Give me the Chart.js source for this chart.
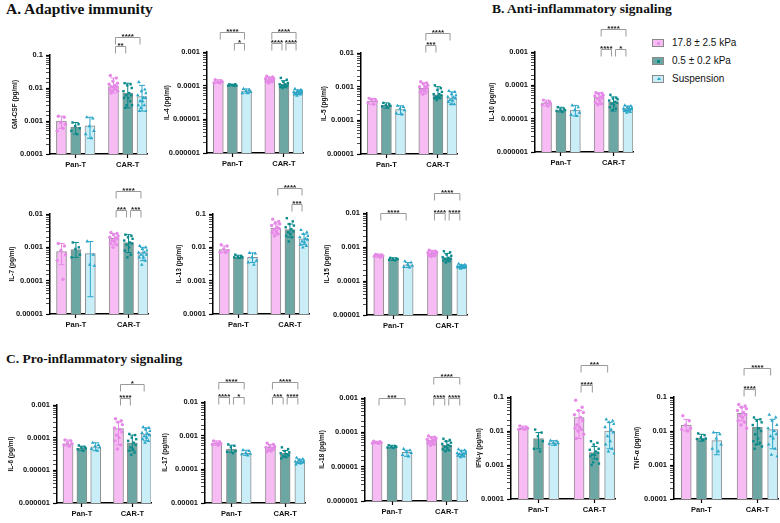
<!DOCTYPE html>
<html>
<head>
<meta charset="utf-8">
<script src="https://cdn.jsdelivr.net/npm/chart.js@4.4.1/dist/chart.umd.min.js"></script>
<style>
  body { margin: 0; background: #fff; }
  #fig { position: relative; width: 780px; height: 523px; overflow: hidden; font-family: "Liberation Sans", Arial, sans-serif; }
  #fig canvas { position: absolute; }
  .ttl { position: absolute; font: bold 13.5px "Liberation Serif", "Times New Roman", serif; color: #111; white-space: nowrap; line-height: 16px; }
  .leg { position: absolute; left: 652px; height: 12px; line-height: 12px; font-size: 10px; color: #111; white-space: nowrap; }
  .leg span.txt { position: absolute; left: 20px; top: 0; }
  .sw { position: absolute; left: 0; top: 2px; width: 10px; height: 6px; border: 1px solid #8a8a8a; }
  .mk { position: absolute; left: 4px; top: 1.5px; width: 3px; height: 3px; }
</style>
</head>
<body>
<div id="fig">
  <div class="ttl" style="left:6px;top:0px;font-size:15.5px;line-height:18px">A. Adaptive immunity</div>
  <div class="ttl" style="left:492px;top:1px">B. Anti-inflammatory signaling</div>
  <div class="ttl" style="left:6px;top:351px">C. Pro-inflammatory signaling</div>
  <div class="leg" style="top:37px"><div class="sw" style="background:#f8bcf5"><div class="mk" style="background:#e58ae6;border-radius:50%"></div></div><span class="txt">17.8 ± 2.5 kPa</span></div>
  <div class="leg" style="top:55px"><div class="sw" style="background:#6ca7a3"><div class="mk" style="background:#0a8a8b"></div></div><span class="txt">0.5 ± 0.2 kPa</span></div>
  <div class="leg" style="top:73px"><div class="sw" style="background:#c9eef8"><div class="mk" style="width:0;height:0;left:3.5px;top:1px;border-left:2px solid transparent;border-right:2px solid transparent;border-bottom:3px solid #2ba6c8"></div></div><span class="txt">Suspension</span></div>
</div>
<script>
const groups = ['Pan-T', 'CAR-T'];
const series = ['17.8 ± 2.5 kPa', '0.5 ± 0.2 kPa', 'Suspension'];

// order of bars: Pan-T (3 series), then CAR-T (3 series)
// GM-CSF
const gmcsfMean = [0.001, 0.00065, 0.00072, 0.011, 0.007, 0.0055];
const gmcsfErr = [[0.0006, 0.0014], [0.0004, 0.0009], [0.0003, 0.0013], [0.007, 0.02], [0.0025, 0.014], [0.002, 0.012]];
const gmcsfPts = [
  [0.0014, 0.0013, 0.0009, 0.0008, 0.0005, 0.0006],
  [0.0009, 0.0008, 0.0007, 0.0006, 0.0005, 0.0004],
  [0.0013, 0.0012, 0.0007, 0.0005, 0.0004, 0.0003],
  [0.024, 0.02, 0.016, 0.014, 0.013, 0.012, 0.011, 0.011, 0.01, 0.009, 0.009, 0.008, 0.008, 0.007],
  [0.014, 0.013, 0.012, 0.01, 0.008, 0.007, 0.006, 0.006, 0.005, 0.005, 0.004, 0.003, 0.003, 0.0025],
  [0.015, 0.009, 0.008, 0.007, 0.006, 0.005, 0.005, 0.004, 0.004, 0.003, 0.003, 0.0025, 0.002, 0.002]
];
const gmcsfSig = [[3, 4, '**', 0], [3, 5, '****', 1]];

// IL-4
const il4Mean = [0.00013, 0.000105, 0.00007, 0.00015, 0.00011, 0.000065];
const il4Err = [[0.00012, 0.00015], [0.0001, 0.00011], [0.00006, 0.00008], [0.00013, 0.00018], [0.00009, 0.00014], [0.000055, 0.000075]];
const il4Pts = [
  [0.00015, 0.00014, 0.00013, 0.00013, 0.00012, 0.00012],
  [0.00011, 0.00011, 0.000105, 0.0001, 0.0001, 0.0001],
  [0.00008, 0.000075, 0.00007, 0.000065, 0.00006, 0.00006],
  [0.00019, 0.00018, 0.00017, 0.00016, 0.00016, 0.00015, 0.00015, 0.00014, 0.00014, 0.00013, 0.00013, 0.00012],
  [0.00017, 0.00015, 0.00013, 0.00012, 0.00011, 0.00011, 0.0001, 0.0001, 0.000095, 0.00009, 0.00009, 0.000085],
  [0.00008, 0.000075, 0.00007, 0.00007, 0.000065, 0.000065, 0.00006, 0.00006, 0.000058, 0.000055, 0.000055, 0.00005]
];
const il4Sig = [[0, 2, '****', 1], [1, 2, '*', 0], [3, 5, '****', 1], [3, 4, '****', 0], [4, 5, '****', 0]];

// IL-5
const il5Mean = [0.00037, 0.00028, 0.00021, 0.0009, 0.00057, 0.00047];
const il5Err = [[0.0003, 0.00045], [0.00023, 0.00033], [0.00015, 0.00027], [0.0006, 0.0013], [0.00045, 0.001], [0.0003, 0.0007]];
const il5Pts = [
  [0.00045, 0.00042, 0.0004, 0.00037, 0.00033, 0.0003],
  [0.00033, 0.0003, 0.00028, 0.00027, 0.00026, 0.00024],
  [0.00027, 0.00025, 0.00022, 0.0002, 0.00016, 0.00015],
  [0.0014, 0.0013, 0.0012, 0.0011, 0.001, 0.001, 0.0009, 0.0008, 0.0008, 0.0007, 0.0007, 0.0006],
  [0.0011, 0.0009, 0.0008, 0.0007, 0.0006, 0.0006, 0.00055, 0.0005, 0.0005, 0.00045, 0.00045, 0.0004],
  [0.00075, 0.0007, 0.0006, 0.00055, 0.0005, 0.00048, 0.00045, 0.0004, 0.00038, 0.00035, 0.0003, 0.0003]
];
const il5Sig = [[3, 4, '***', 0], [3, 5, '****', 1]];

// IL-10
const il10Mean = [0.00003, 0.000018, 0.000018, 0.000045, 0.000032, 0.00002];
const il10Err = [[0.000024, 0.000036], [0.000016, 0.000022], [0.000012, 0.000025], [0.000028, 0.00006], [0.000017, 0.000045], [0.000016, 0.000024]];
const il10Pts = [
  [0.000036, 0.000033, 0.00003, 0.000028, 0.000026, 0.000024],
  [0.000022, 0.00002, 0.000019, 0.000018, 0.000017, 0.000016],
  [0.000025, 0.000022, 0.000018, 0.000015, 0.000013, 0.000012],
  [0.00006, 0.000058, 0.000055, 0.00005, 0.000048, 0.000045, 0.000042, 0.00004, 0.000035, 0.00003, 0.000028, 0.000026],
  [0.000052, 0.000042, 0.00004, 0.000038, 0.000035, 0.000032, 0.00003, 0.000028, 0.000025, 0.000022, 0.00002, 0.000018],
  [0.000025, 0.000024, 0.000022, 0.000021, 0.00002, 0.00002, 0.000019, 0.000018, 0.000018, 0.000017, 0.000016, 0.000015]
];
const il10Sig = [[3, 5, '****', 1], [3, 4, '****', 0], [4, 5, '*', 0]];

// IL-7
const il7Mean = [0.00075, 0.00085, 0.00065, 0.0019, 0.0014, 0.0007];
const il7Err = [[0.0003, 0.0013], [0.0005, 0.0014], [0.000033, 0.0015], [0.0012, 0.0026], [0.0007, 0.0024], [0.0004, 0.001]];
const il7Pts = [
  [0.0013, 0.0011, 0.0008, 0.0006, 0.0004, 0.00011],
  [0.0014, 0.001, 0.0009, 0.0006, 0.0005],
  [0.0015, 0.0006, 0.0003, 0.00028],
  [0.0028, 0.0026, 0.0024, 0.0022, 0.002, 0.0019, 0.0018, 0.0016, 0.0015, 0.0013, 0.0012, 0.001],
  [0.0024, 0.0022, 0.002, 0.0018, 0.0016, 0.0014, 0.0013, 0.0012, 0.001, 0.0008, 0.0006, 0.0005],
  [0.0011, 0.001, 0.0009, 0.0008, 0.0007, 0.0007, 0.0006, 0.0006, 0.0005, 0.0005, 0.0004, 0.0003]
];
const il7Sig = [[3, 5, '****', 1], [3, 4, '***', 0], [4, 5, '***', 0]];

// IL-13
const il13Mean = [0.0085, 0.0052, 0.005, 0.037, 0.034, 0.018];
const il13Err = [[0.007, 0.011], [0.0047, 0.0058], [0.0035, 0.0068], [0.025, 0.05], [0.02, 0.05], [0.012, 0.025]];
const il13Pts = [
  [0.012, 0.011, 0.009, 0.008, 0.007, 0.007],
  [0.006, 0.0055, 0.0052, 0.005, 0.005, 0.0048],
  [0.0068, 0.0065, 0.005, 0.004, 0.0035, 0.003],
  [0.07, 0.06, 0.055, 0.05, 0.045, 0.04, 0.037, 0.035, 0.03, 0.028, 0.025, 0.022],
  [0.075, 0.06, 0.05, 0.045, 0.04, 0.035, 0.03, 0.028, 0.025, 0.022, 0.02, 0.015],
  [0.033, 0.028, 0.025, 0.022, 0.02, 0.018, 0.017, 0.015, 0.014, 0.012, 0.011, 0.01]
];
const il13Sig = [[3, 5, '****', 1], [4, 5, '***', 0]];

// IL-15
const il15Mean = [0.00056, 0.00044, 0.0003, 0.00065, 0.00048, 0.00027];
const il15Err = [[0.0005, 0.00062], [0.0004, 0.00048], [0.00025, 0.00035], [0.00055, 0.0008], [0.00038, 0.00065], [0.00024, 0.0003]];
const il15Pts = [
  [0.0006, 0.00058, 0.00057, 0.00055, 0.00053, 0.0005],
  [0.00048, 0.00046, 0.00045, 0.00044, 0.00042, 0.0004],
  [0.00038, 0.00035, 0.0003, 0.00028, 0.00026, 0.00025],
  [0.0008, 0.00075, 0.00072, 0.0007, 0.00068, 0.00065, 0.00062, 0.0006, 0.00058, 0.00056, 0.00055, 0.00052],
  [0.00075, 0.0007, 0.0006, 0.00055, 0.0005, 0.00048, 0.00045, 0.00045, 0.00042, 0.0004, 0.00038, 0.00035],
  [0.00032, 0.0003, 0.00029, 0.00028, 0.00027, 0.00027, 0.00026, 0.00026, 0.00025, 0.00025, 0.00024, 0.00023]
];
const il15Sig = [[0, 2, '****', 0], [3, 5, '****', 1], [3, 4, '****', 0], [4, 5, '****', 0]];

// IL-6
const il6Mean = [0.000065, 0.000048, 0.000052, 0.00019, 0.00007, 0.00013];
const il6Err = [[0.000055, 0.000085], [0.00004, 0.000055], [0.00004, 0.00007], [0.00006, 0.0003], [0.00004, 0.00012], [0.00008, 0.0002]];
const il6Pts = [
  [0.000085, 0.00008, 0.00007, 0.000065, 0.00006, 0.000055],
  [0.000058, 0.000052, 0.00005, 0.000047, 0.000044, 0.00004],
  [0.00007, 0.00006, 0.000055, 0.00005, 0.000045, 0.00004],
  [0.00038, 0.00033, 0.0003, 0.00025, 0.0002, 0.00018, 0.00015, 0.00012, 0.0001, 0.00008, 0.00006, 0.000045],
  [0.00013, 0.00012, 0.0001, 0.00009, 0.00008, 0.00007, 0.00006, 0.00005, 0.000045, 0.00004, 0.000035, 0.00003],
  [0.00021, 0.0002, 0.00018, 0.00016, 0.00014, 0.00013, 0.00012, 0.00011, 0.0001, 0.00009, 0.00008, 0.00007]
];
const il6Sig = [[3, 4, '****', 0], [3, 5, '*', 1]];

// IL-17
const il17Mean = [0.0006, 0.0004, 0.0003, 0.00046, 0.0003, 0.00017];
const il17Err = [[0.00052, 0.0007], [0.00032, 0.00052], [0.00026, 0.00037], [0.00035, 0.00055], [0.00023, 0.00036], [0.00015, 0.0002]];
const il17Pts = [
  [0.0007, 0.00065, 0.0006, 0.00058, 0.00055, 0.00052],
  [0.00055, 0.0005, 0.00045, 0.00035, 0.00033, 0.0003],
  [0.00037, 0.00035, 0.0003, 0.00029, 0.00028, 0.00026],
  [0.0006, 0.00055, 0.0005, 0.00048, 0.00045, 0.00042, 0.0004, 0.00038, 0.00035, 0.00033],
  [0.00045, 0.0004, 0.00035, 0.00032, 0.0003, 0.00028, 0.00026, 0.00025, 0.00023, 0.00021],
  [0.00022, 0.0002, 0.00019, 0.00018, 0.00017, 0.00017, 0.00016, 0.00016, 0.00015, 0.00014]
];
const il17Sig = [[0, 2, '****', 1], [0, 1, '****', 0], [1, 2, '*', 0], [3, 5, '****', 1], [3, 4, '***', 0], [4, 5, '****', 0]];

// IL-18
const il18Mean = [0.00005, 0.000038, 0.000026, 0.000058, 0.000042, 0.000024];
const il18Err = [[0.000047, 0.000055], [0.000035, 0.000042], [0.00002, 0.00003], [0.000045, 0.000075], [0.00003, 0.000055], [0.00002, 0.00003]];
const il18Pts = [
  [0.000055, 0.000053, 0.00005, 0.00005, 0.000048, 0.000047],
  [0.000042, 0.00004, 0.000038, 0.000038, 0.000036, 0.000035],
  [0.000033, 0.00003, 0.000027, 0.000025, 0.000022, 0.00002],
  [0.000078, 0.000072, 0.00007, 0.000066, 0.000062, 0.00006, 0.000057, 0.000055, 0.00005, 0.000048, 0.000045, 0.000042],
  [0.000065, 0.00006, 0.000055, 0.00005, 0.000046, 0.000043, 0.00004, 0.000038, 0.000035, 0.000032, 0.00003, 0.000028],
  [0.000032, 0.00003, 0.000028, 0.000027, 0.000025, 0.000024, 0.000024, 0.000023, 0.000022, 0.000021, 0.00002, 0.000019]
];
const il18Sig = [[0, 2, '***', 0], [3, 5, '****', 1], [3, 4, '****', 0], [4, 5, '****', 0]];

// IFN-γ
const ifngMean = [0.012, 0.006, 0.0045, 0.025, 0.0023, 0.01];
const ifngErr = [[0.011, 0.014], [0.003, 0.009], [0.0038, 0.0052], [0.006, 0.04], [0.0015, 0.0035], [0.003, 0.018]];
const ifngPts = [
  [0.014, 0.013, 0.012, 0.012, 0.011, 0.011],
  [0.011, 0.009, 0.007, 0.005, 0.003, 0.0025],
  [0.0052, 0.005, 0.0045, 0.0044, 0.0042, 0.004],
  [0.08, 0.05, 0.04, 0.035, 0.03, 0.025, 0.02, 0.015, 0.013, 0.012, 0.011, 0.01, 0.008, 0.006],
  [0.005, 0.0045, 0.004, 0.003, 0.0028, 0.0025, 0.0023, 0.002, 0.002, 0.0018, 0.0015, 0.0012, 0.0011, 0.001],
  [0.022, 0.02, 0.018, 0.016, 0.013, 0.011, 0.009, 0.007, 0.005, 0.004, 0.003, 0.0025, 0.0022]
];
const ifngSig = [[3, 4, '****', 0], [3, 5, '***', 1]];

// TNF-α
const tnfaMean = [0.015, 0.0062, 0.0052, 0.033, 0.013, 0.011];
const tnfaErr = [[0.01, 0.022], [0.005, 0.008], [0.002, 0.009], [0.02, 0.05], [0.004, 0.022], [0.003, 0.022]];
const tnfaPts = [
  [0.028, 0.02, 0.015, 0.012, 0.011, 0.01],
  [0.0085, 0.0075, 0.0065, 0.006, 0.0058, 0.0055],
  [0.009, 0.008, 0.006, 0.004, 0.003, 0.0025],
  [0.06, 0.055, 0.05, 0.045, 0.04, 0.035, 0.03, 0.028, 0.025, 0.02, 0.018, 0.015, 0.012],
  [0.025, 0.022, 0.02, 0.018, 0.015, 0.012, 0.01, 0.008, 0.006, 0.005, 0.0045, 0.004, 0.0035, 0.003],
  [0.03, 0.025, 0.02, 0.015, 0.012, 0.01, 0.008, 0.007, 0.006, 0.004, 0.003, 0.002, 0.0018]
];
const tnfaSig = [[3, 4, '****', 0], [3, 5, '****', 1]];

// panel placement (axis origin x, plot width, top/bottom tick y, title gap, bracket rows)
const panels = [
  { label: 'GM-CSF (pg/ml)', min: 1e-4, max: 1e-1, mean: gmcsfMean, err: gmcsfErr, pts: gmcsfPts, sig: gmcsfSig, ax: 50, w: 97, top: 55, bottom: 154, gap: 35, rows: [9, 18] },
  { label: 'IL-4 (pg/ml)', min: 1e-6, max: 1e-3, mean: il4Mean, err: il4Err, pts: il4Pts, sig: il4Sig, ax: 207, w: 96, top: 52, bottom: 153, gap: 40, rows: [9, 20] },
  { label: 'IL-5 (pg/ml)', min: 1e-5, max: 1e-2, mean: il5Mean, err: il5Err, pts: il5Pts, sig: il5Sig, ax: 361, w: 96, top: 53, bottom: 154, gap: 37, rows: [8, 20] },
  { label: 'IL-10 (pg/ml)', min: 1e-6, max: 1e-3, mean: il10Mean, err: il10Err, pts: il10Pts, sig: il10Sig, ax: 535, w: 98, top: 52, bottom: 152, gap: 43, rows: [3, 23] },
  { label: 'IL-7 (pg/ml)', min: 1e-5, max: 1e-2, mean: il7Mean, err: il7Err, pts: il7Pts, sig: il7Sig, ax: 50, w: 98, top: 214, bottom: 314, gap: 38, rows: [4, 23] },
  { label: 'IL-13 (pg/ml)', min: 1e-4, max: 1e-1, mean: il13Mean, err: il13Err, pts: il13Pts, sig: il13Sig, ax: 213, w: 96, top: 214, bottom: 314, gap: 34, rows: [10, 26] },
  { label: 'IL-15 (pg/ml)', min: 1e-5, max: 1e-2, mean: il15Mean, err: il15Err, pts: il15Pts, sig: il15Sig, ax: 367, w: 100, top: 213, bottom: 315, gap: 40, rows: [0, 20] },
  { label: 'IL-6 (pg/ml)', min: 1e-6, max: 1e-3, mean: il6Mean, err: il6Err, pts: il6Pts, sig: il6Sig, ax: 57, w: 94, top: 405, bottom: 503, gap: 46, rows: [7, 21] },
  { label: 'IL-17 (pg/ml)', min: 1e-5, max: 1e-2, mean: il17Mean, err: il17Err, pts: il17Pts, sig: il17Sig, ax: 205, w: 100, top: 402, bottom: 503, gap: 40, rows: [5, 20] },
  { label: 'IL-18 (pg/ml)', min: 1e-6, max: 1e-3, mean: il18Mean, err: il18Err, pts: il18Pts, sig: il18Sig, ax: 365, w: 102, top: 398, bottom: 501, gap: 43, rows: [0, 21] },
  { label: 'IFN-γ (pg/ml)', min: 1e-4, max: 1e-1, mean: ifngMean, err: ifngErr, pts: ifngPts, sig: ifngSig, ax: 511, w: 104, top: 397, bottom: 499, gap: 32, rows: [12, 32] },
  { label: 'TNF-α (pg/ml)', min: 1e-4, max: 1e-1, mean: tnfaMean, err: tnfaErr, pts: tnfaPts, sig: tnfaSig, ax: 674, w: 104, top: 397, bottom: 499, gap: 37, rows: [8, 29] }
];

const SLOTS = [1, 2, 3, 4.65, 5.65, 6.65];
const JIT = [-0.22, 0.2, -0.04, 0.28, -0.3, 0.1, 0.24, -0.14, 0.04, -0.26, 0.16, -0.08, 0.3, -0.18];
const BAR = ['#f8bcf5', '#6ca7a3', '#c9eef8'];
const DOT = ['#e58ae6', '#0a8a8b', '#2ba6c8'];
const SHAPE = ['circle', 'rect', 'triangle'];
const FONT = '"Liberation Sans", Arial, sans-serif';

function isDecade(v) {
  const l = Math.log10(v);
  return Math.abs(l - Math.round(l)) < 1e-6;
}
function decadeLabel(v) {
  const e = Math.round(Math.log10(v));
  return e >= 0 ? String(Math.pow(10, e)) : '0.' + '0'.repeat(-e - 1) + '1';
}

function errBars(p) {
  return {
    id: 'errbars',
    afterDatasetDraw(chart, args) {
      if (args.index !== 0) return;
      const { ctx, scales: { x, y } } = chart;
      ctx.save();
      ctx.lineWidth = 1;
      p.err.forEach(([lo, hi], i) => {
        const px = x.getPixelForValue(SLOTS[i]);
        const y1 = y.getPixelForValue(lo), y2 = y.getPixelForValue(hi);
        ctx.strokeStyle = DOT[i % 3];
        ctx.beginPath();
        ctx.moveTo(px, y1); ctx.lineTo(px, y2);
        ctx.moveTo(px - 3, y1); ctx.lineTo(px + 3, y1);
        ctx.moveTo(px - 3, y2); ctx.lineTo(px + 3, y2);
        ctx.stroke();
      });
      ctx.restore();
    }
  };
}

function brackets(p) {
  return {
    id: 'brackets',
    afterDraw(chart) {
      const { ctx, scales: { x } } = chart;
      ctx.save();
      ctx.lineWidth = 1;
      ctx.strokeStyle = '#9a9a9a';
      ctx.fillStyle = '#222';
      ctx.font = 'bold 8px ' + FONT;
      ctx.textAlign = 'center';
      ctx.textBaseline = 'alphabetic';
      p.sig.forEach(([i, j, label, row]) => {
        const x1 = x.getPixelForValue(SLOTS[i]) + 2;
        const x2 = x.getPixelForValue(SLOTS[j]) - 2;
        const y = Math.round(chart.chartArea.top - p.rows[row]) + 0.5;
        ctx.beginPath();
        ctx.moveTo(x1, y + 7); ctx.lineTo(x1, y); ctx.lineTo(x2, y); ctx.lineTo(x2, y + 7);
        ctx.stroke();
        ctx.fillText(label, (x1 + x2) / 2, y + 1);
      });
      ctx.restore();
    }
  };
}

function makePanel(p) {
  const L = 60, T = 45, B = 24, R = 6;
  const fig = document.getElementById('fig');
  const cv = document.createElement('canvas');
  cv.width = L + p.w + R;
  cv.height = T + (p.bottom - p.top) + B;
  cv.style.left = (p.ax - L) + 'px';
  cv.style.top = (p.top - T) + 'px';
  fig.appendChild(cv);

  const bars = {
    type: 'bar', order: 2,
    data: SLOTS.map((x, i) => ({ x, y: p.mean[i] })),
    backgroundColor: SLOTS.map((_, i) => BAR[i % 3]),
    borderColor: '#8e8e8e', borderWidth: 1, barThickness: 10
  };
  const dots = [0, 1, 2].map(s => ({
    type: 'scatter', order: 0,
    data: [s, s + 3].flatMap(g => p.pts[g].map((v, k) => ({ x: SLOTS[g] + JIT[k % JIT.length], y: v }))),
    pointStyle: SHAPE[s], pointRadius: s === 2 ? 2.1 : 1.7,
    backgroundColor: DOT[s], borderWidth: 0
  }));

  new Chart(cv, {
    type: 'bar',
    data: { datasets: [bars, ...dots] },
    options: {
      responsive: false, animation: false, devicePixelRatio: 1,
      layout: { padding: { left: L - (p.gap + 4), top: T, right: R, bottom: 0 } },
      plugins: { legend: { display: false }, tooltip: { enabled: false } },
      scales: {
        x: {
          type: 'linear', min: 0.2, max: 7.0, offset: false,
          afterBuildTicks: s => { s.ticks = [{ value: SLOTS[1] }, { value: SLOTS[4] }]; },
          afterFit: s => { s.height = B; },
          border: { color: '#000', width: 1.5 },
          grid: { drawOnChartArea: false, offset: false, tickLength: 4, tickColor: '#000', tickWidth: 1.2 },
          ticks: {
            autoSkip: false, maxRotation: 0, padding: 2, color: '#111',
            font: { family: FONT, size: 7.5, weight: 'bold' },
            callback: v => v < 4 ? groups[0] : groups[1]
          }
        },
        y: {
          type: 'logarithmic', min: p.min, max: p.max,
          afterFit: s => { s.width = p.gap + 4; },
          border: { color: '#000', width: 1.5 },
          grid: {
            drawOnChartArea: false, tickLength: 4, tickColor: '#000',
            tickWidth: c => isDecade(c.tick.value) ? 1.2 : 0.7
          },
          ticks: {
            autoSkip: false, padding: 3, color: '#111',
            font: { family: FONT, size: 7.5, weight: 'bold' },
            callback: v => isDecade(v) ? decadeLabel(v) : ''
          },
          title: { display: true, text: p.label, padding: 0, color: '#111', font: { family: FONT, size: 6.5, weight: 'bold' } }
        }
      }
    },
    plugins: [errBars(p), brackets(p)]
  });
}

panels.forEach(makePanel);
</script>
</body>
</html>
